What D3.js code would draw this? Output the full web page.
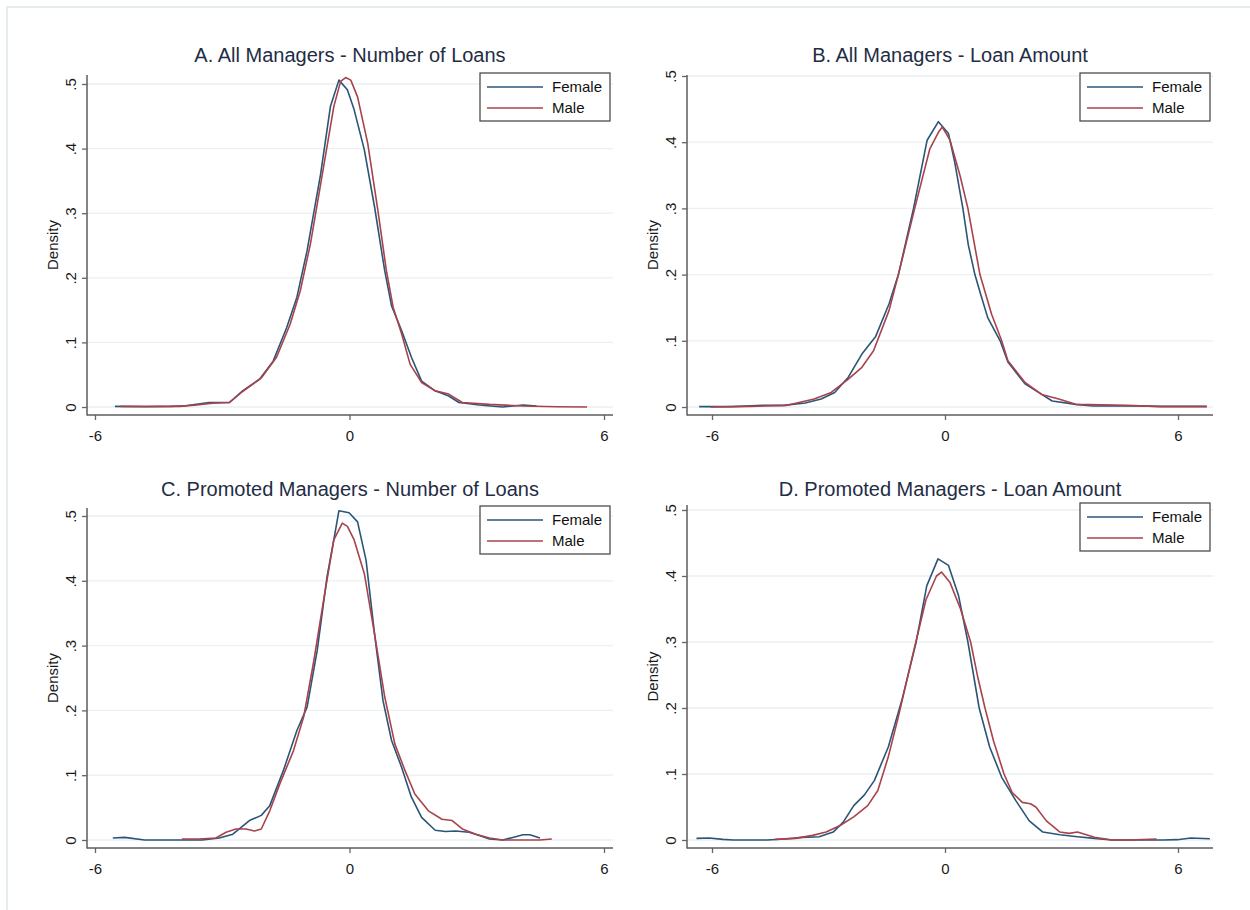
<!DOCTYPE html>
<html><head><meta charset="utf-8">
<script src="https://cdn.jsdelivr.net/npm/d3@7"></script>
<style>body{margin:0;background:#fff;}svg{display:block;font-family:"Liberation Sans",Arial,sans-serif;}</style>
</head><body>
<svg id="chart" width="1250" height="910"></svg>
<script>
// ---- data (x, density) ----
const titles = ["A. All Managers - Number of Loans","B. All Managers - Loan Amount","C. Promoted Managers - Number of Loans","D. Promoted Managers - Loan Amount"];
const seriesNames = ["Female","Male"];
const xTicks = [-6,0,6];
const yTicks = [0,0.1,0.2,0.3,0.4,0.5];
const yTickLabels = ["0",".1",".2",".3",".4",".5"];
const yLabel = "Density";

const aFemale = [[-5.53,0.001],[-4.8,0.0005],[-4.2,0.001],[-3.87,0.002],[-3.31,0.007],[-2.83,0.007],[-2.52,0.025],[-2.12,0.043],[-1.80,0.071],[-1.48,0.123],[-1.24,0.17],[-1.0,0.242],[-0.68,0.361],[-0.45,0.465],[-0.25,0.506],[-0.05,0.491],[0.11,0.46],[0.35,0.398],[0.59,0.31],[0.83,0.211],[0.99,0.157],[1.23,0.118],[1.46,0.077],[1.70,0.040],[2.02,0.025],[2.34,0.017],[2.58,0.007],[3.06,0.003],[3.61,0.0],[4.09,0.003],[4.41,0.0015]];
const aMale = [[-5.40,0.001],[-4.6,0.001],[-4.0,0.001],[-3.6,0.003],[-3.23,0.006],[-2.83,0.007],[-2.52,0.024],[-2.08,0.045],[-1.72,0.077],[-1.40,0.128],[-1.16,0.18],[-0.92,0.253],[-0.61,0.372],[-0.37,0.465],[-0.21,0.504],[-0.09,0.51],[0.03,0.506],[0.19,0.48],[0.43,0.408],[0.67,0.304],[0.87,0.211],[1.03,0.154],[1.23,0.113],[1.43,0.066],[1.70,0.038],[2.02,0.025],[2.34,0.02],[2.66,0.007],[3.30,0.004],[4.09,0.0015],[4.89,0.0005],[5.6,0.0]];
const bFemale = [[-6.33,0.0005],[-5.5,0.0005],[-4.68,0.0025],[-4.16,0.0025],[-3.6,0.006],[-3.19,0.012],[-2.84,0.022],[-2.49,0.045],[-2.14,0.080],[-1.79,0.106],[-1.44,0.156],[-1.2,0.2],[-0.81,0.3],[-0.46,0.403],[-0.17,0.431],[0.09,0.413],[0.25,0.37],[0.46,0.30],[0.6,0.245],[0.77,0.2],[0.92,0.17],[1.1,0.135],[1.42,0.10],[1.62,0.068],[2.06,0.035],[2.41,0.022],[2.76,0.009],[3.37,0.004],[3.81,0.0015],[4.68,0.002],[5.56,0.001],[6.74,0.001]];
const bMale = [[-6.04,0.0],[-5.0,0.001],[-4.07,0.0025],[-3.37,0.012],[-2.93,0.022],[-2.49,0.042],[-2.14,0.060],[-1.84,0.085],[-1.44,0.146],[-1.2,0.2],[-0.78,0.3],[-0.39,0.39],[-0.17,0.415],[-0.07,0.423],[0.13,0.403],[0.39,0.349],[0.59,0.3],[0.9,0.2],[1.2,0.14],[1.46,0.1],[1.62,0.07],[2.06,0.037],[2.49,0.019],[2.93,0.012],[3.37,0.004],[4.68,0.0025],[5.56,0.0005],[6.74,0.0005]];
const cFemale = [[-5.58,0.003],[-5.30,0.004],[-4.83,0.0],[-4.27,0.0],[-3.47,0.0],[-3.07,0.003],[-2.75,0.009],[-2.36,0.03],[-2.08,0.038],[-1.88,0.053],[-1.56,0.107],[-1.24,0.169],[-1.0,0.205],[-0.76,0.293],[-0.53,0.406],[-0.37,0.463],[-0.25,0.508],[-0.01,0.505],[0.19,0.491],[0.39,0.432],[0.59,0.318],[0.79,0.215],[0.99,0.154],[1.23,0.112],[1.46,0.066],[1.70,0.035],[2.02,0.015],[2.26,0.013],[2.50,0.014],[2.82,0.012],[3.06,0.007],[3.30,0.0015],[3.61,0.0],[3.85,0.004],[4.09,0.008],[4.25,0.008],[4.49,0.003]];
const cMale = [[-3.95,0.0015],[-3.55,0.0015],[-3.15,0.003],[-2.91,0.012],[-2.68,0.017],[-2.44,0.017],[-2.24,0.014],[-2.08,0.017],[-1.88,0.045],[-1.64,0.087],[-1.32,0.138],[-1.08,0.19],[-0.84,0.277],[-0.61,0.37],[-0.37,0.463],[-0.17,0.489],[-0.05,0.484],[0.11,0.463],[0.35,0.411],[0.59,0.318],[0.83,0.221],[1.07,0.148],[1.31,0.107],[1.54,0.071],[1.86,0.045],[2.18,0.032],[2.42,0.03],[2.66,0.017],[2.98,0.009],[3.30,0.003],[3.61,0.0],[4.09,0.0],[4.49,0.0],[4.77,0.0015]];
const dFemale = [[-6.40,0.0025],[-6.07,0.003],[-5.72,0.001],[-5.45,0.0],[-4.57,0.0],[-4.13,0.0015],[-3.68,0.004],[-3.24,0.005],[-2.88,0.012],[-2.62,0.027],[-2.35,0.052],[-2.08,0.068],[-1.82,0.09],[-1.46,0.141],[-1.11,0.212],[-0.75,0.298],[-0.47,0.385],[-0.18,0.426],[0.09,0.416],[0.35,0.37],[0.59,0.3],[0.88,0.2],[1.15,0.141],[1.46,0.095],[1.82,0.06],[2.17,0.029],[2.52,0.012],[2.96,0.008],[3.41,0.005],[3.85,0.0025],[4.30,0.0],[5.62,0.0],[5.98,0.0005],[6.33,0.003],[6.82,0.002]];
const dMale = [[-4.38,0.001],[-3.85,0.0025],[-3.41,0.007],[-3.06,0.012],[-2.70,0.022],[-2.35,0.035],[-1.99,0.052],[-1.73,0.075],[-1.46,0.126],[-1.20,0.187],[-0.84,0.278],[-0.49,0.364],[-0.22,0.40],[-0.09,0.406],[0.13,0.39],[0.40,0.35],[0.66,0.30],[0.85,0.245],[1.03,0.2],[1.25,0.15],[1.52,0.1],[1.73,0.072],[1.99,0.057],[2.2,0.055],[2.34,0.05],[2.61,0.029],[2.96,0.012],[3.2,0.01],[3.41,0.012],[3.85,0.004],[4.30,0.0],[4.74,0.0],[5.45,0.0015]];

// ---- layout ----
const colors = ["#2a5578","#a8434b"];
const panels = [
  {title:titles[0], data:[aFemale,aMale], box:[87,75,613,415], xpx:[95,604], ypx:[407,84], tb:62},
  {title:titles[1], data:[bFemale,bMale], box:[687,75,1213,415], xpx:[712,1178], ypx:[407,76], tb:62},
  {title:titles[2], data:[cFemale,cMale], box:[87,508,613,848], xpx:[95,604], ypx:[840,516], tb:496},
  {title:titles[3], data:[dFemale,dMale], box:[687,505,1213,848], xpx:[712,1178], ypx:[840,510], tb:496}
];

const svg = d3.select("#chart");
svg.append("rect").attr("x",7).attr("y",7).attr("width",1270).attr("height",930)
  .attr("fill","#fff").attr("stroke","#e4ecee").attr("stroke-width",2);

panels.forEach(p => {
  const [L,T,R,B] = p.box;
  const x = d3.scaleLinear().domain([-6,6]).range(p.xpx);
  const y = d3.scaleLinear().domain([0,0.5]).range(p.ypx);
  const g = svg.append("g");

  // grid
  g.selectAll(".grid").data(yTicks).join("line")
    .attr("x1",L).attr("x2",R).attr("y1",d=>y(d)).attr("y2",d=>y(d))
    .attr("stroke","#e9f1f2").attr("stroke-width",1.3);

  // axes
  const ax = g.append("g").attr("transform",`translate(${L},0)`)
    .call(d3.axisLeft(y).tickValues(yTicks).tickFormat((d,i)=>yTickLabels[i]).tickSize(5).tickSizeOuter(0));
  ax.select(".domain").remove();
  ax.selectAll(".tick line").attr("stroke","#666").attr("stroke-width",1.3);
  ax.selectAll(".tick text").attr("x",0).attr("dy",0).attr("y",0)
    .attr("text-anchor","middle").attr("transform","translate(-11,0) rotate(-90)")
    .attr("font-size",15).attr("fill","#1a1a1a").attr("font-family","Liberation Sans, Arial, sans-serif");

  const bx = g.append("g").attr("transform",`translate(0,${B})`)
    .call(d3.axisBottom(x).tickValues(xTicks).tickFormat(d3.format("d")).tickSize(5).tickSizeOuter(0));
  bx.select(".domain").remove();
  bx.selectAll(".tick line").attr("stroke","#666").attr("stroke-width",1.3);
  bx.selectAll(".tick text").attr("y",15).attr("dy","0.71em")
    .attr("font-size",15).attr("fill","#1a1a1a").attr("font-family","Liberation Sans, Arial, sans-serif")
    .text(d=> d<0 ? "-"+Math.abs(d) : String(d));

  g.append("line").attr("x1",L).attr("x2",L).attr("y1",T).attr("y2",B+0.6).attr("stroke","#5c5c5c").attr("stroke-width",1.5);
  g.append("line").attr("x1",L).attr("x2",R).attr("y1",B).attr("y2",B).attr("stroke","#5c5c5c").attr("stroke-width",1.5);

  // y label
  g.append("text").attr("transform",`translate(${L-29},${(T+B)/2}) rotate(-90)`)
    .attr("text-anchor","middle").attr("font-size",15).attr("fill","#1a1a1a").text(yLabel);

  // title
  g.append("text").attr("x",(L+R)/2).attr("y",p.tb).attr("text-anchor","middle")
    .attr("font-size",20).attr("fill","#1f2d45").text(p.title);

  // lines
  const line = d3.line().x(d=>x(d[0])).y(d=>y(d[1])).curve(d3.curveLinear);
  p.data.forEach((s,i)=>{
    g.append("path").datum(s).attr("d",line).attr("fill","none")
      .attr("stroke",colors[i]).attr("stroke-width",1.6).attr("stroke-linejoin","round");
  });

  // legend
  const lx = R-133, ly = T-2;
  const lg = g.append("g").attr("transform",`translate(${lx},${ly})`);
  lg.append("rect").attr("x",0).attr("y",0).attr("width",130).attr("height",48)
    .attr("fill","#fff").attr("stroke","#4d4d4d").attr("stroke-width",1.3);
  seriesNames.forEach((n,i)=>{
    const yy = 14 + i*21;
    lg.append("line").attr("x1",7).attr("x2",63).attr("y1",yy).attr("y2",yy)
      .attr("stroke",colors[i]).attr("stroke-width",1.6);
    lg.append("text").attr("x",72).attr("y",yy+5).attr("font-size",15).attr("fill","#111").text(n);
  });
});
</script>
</body></html>
